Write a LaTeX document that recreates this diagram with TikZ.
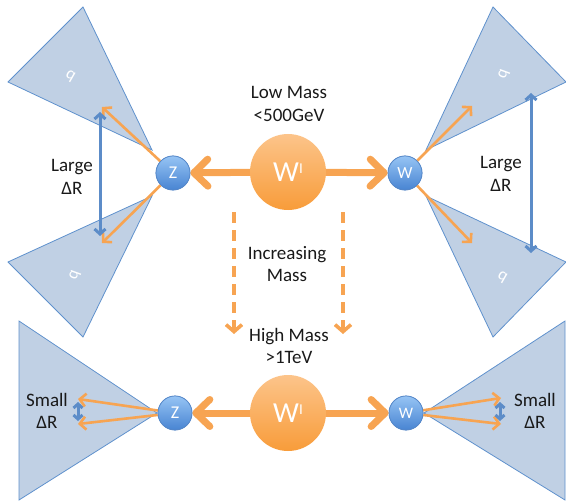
\documentclass[tikz,border=0pt]{standalone}
\usepackage{fontspec}
\setmainfont{Carlito}
\usetikzlibrary{arrows.meta}
\definecolor{orng}{RGB}{247,164,82}
\definecolor{orngtop}{RGB}{252,196,138}
\definecolor{orngbot}{RGB}{248,156,58}
\definecolor{bluetop}{RGB}{150,196,244}
\definecolor{bluebot}{RGB}{72,132,210}
\definecolor{blueedge}{RGB}{85,135,200}
\definecolor{conefill}{RGB}{192,208,228}
\definecolor{coneedge}{RGB}{95,145,205}
\definecolor{darr}{RGB}{92,140,200}
\tikzset{
  cone/.style={fill=conefill, draw=coneedge, line width=0.8pt, line join=miter},
  small/.style={circle, minimum size=34pt, inner sep=0pt, draw=blueedge, line width=0.7pt,
    top color=bluetop, bottom color=bluebot, text=white},
  big/.style={circle, minimum size=76pt, inner sep=0pt, top color=orngtop, bottom color=orngbot, text=white},
  bigarrow/.style={orng, line width=7pt, -{Straight Barb[length=14pt,width=27pt,round]}},
  thinarrow/.style={orng, line width=2.6pt, -{Straight Barb[length=6pt,width=13pt]}},
  dblarrow/.style={darr, line width=3pt, {Straight Barb[length=5pt,width=11pt]}-{Straight Barb[length=5pt,width=11pt]}},
  tinydbl/.style={darr, line width=3pt, {Straight Barb[length=4pt,width=9pt]}-{Straight Barb[length=4pt,width=9pt]}},
  dasharrow/.style={orng, line width=3.6pt, dash pattern=on 11pt off 7pt, -{Straight Barb[length=7pt,width=16pt]}},
  lbl/.style={align=center, font=\fontsize{19}{22.5}\selectfont, text=black!90},
  qlbl/.style={text=white, font=\fontsize{17}{17}\selectfont, inner sep=0pt}
}
\begin{document}
\begin{tikzpicture}[x=1pt,y=-1pt]
\useasboundingbox (0,0) rectangle (566,503);
% cones
\path[cone] (152,150) -- (83,7) -- (8,82) -- cycle;
\path[cone] (152,196) -- (8,262) -- (83,337) -- cycle;
\path[cone] (426,150) -- (493,7) -- (566,82) -- cycle;
\path[cone] (426,196) -- (566,262) -- (493,337) -- cycle;
\path[cone] (157,413) -- (19,321) -- (19,500) -- cycle;
\path[cone] (424,413) -- (565,321) -- (565,500) -- cycle;
\node[qlbl, rotate=-30] (q1) at (70,76) {q};
\node[qlbl, rotate=70] (q2) at (75,275) {q};
\node[qlbl, rotate=70] (q3) at (504,74) {q};
\node[qlbl, rotate=-30] (q4) at (502,277) {q};
% nodes
\node[big] (Wp1) at (288,172) {\fontsize{29}{29}\selectfont W\raisebox{0.28em}{\fontsize{15}{15}\selectfont I}};
\node[big] (Wp2) at (288,413) {\fontsize{29}{29}\selectfont W\raisebox{0.28em}{\fontsize{15}{15}\selectfont I}};
\node[small] (Z1) at (173,173) {\fontsize{18}{18}\selectfont Z};
\node[small] (W1) at (405,173) {\fontsize{17}{17}\selectfont W};
\node[small] (Z2) at (175,413) {\fontsize{18}{18}\selectfont Z};
\node[small] (W2) at (406,413) {\fontsize{16}{16}\selectfont W};
% free ends
\coordinate (a1) at (102,107);
\coordinate (a2) at (102,243);
\coordinate (a3) at (472,106);
\coordinate (a4) at (472,243);
\coordinate (b1) at (78,399);
\coordinate (b2) at (78,424);
\coordinate (b3) at (501,398);
\coordinate (b4) at (501,424);
\coordinate (d1s) at (100,112);
\coordinate (d1e) at (100,236);
\coordinate (d2s) at (531,93);
\coordinate (d2e) at (531,253);
\coordinate (s1s) at (78,402);
\coordinate (s1e) at (78,421);
\coordinate (s2s) at (500,402);
\coordinate (s2e) at (500,421);
\coordinate (v1s) at (234,212);
\coordinate (v1e) at (234,334);
\coordinate (v2s) at (343,212);
\coordinate (v2e) at (343,334);
% thin arrows
\draw[thinarrow] (Z1) -- (a1);
\draw[thinarrow] (Z1) -- (a2);
\draw[thinarrow] (W1) -- (a3);
\draw[thinarrow] (W1) -- (a4);
\draw[thinarrow] (Z2) -- (b1);
\draw[thinarrow] (Z2) -- (b2);
\draw[thinarrow] (W2) -- (b3);
\draw[thinarrow] (W2) -- (b4);
% blue double arrows
\draw[dblarrow] (d1s) -- (d1e);
\draw[dblarrow] (d2s) -- (d2e);
\draw[tinydbl] (s1s) -- (s1e);
\draw[tinydbl] (s2s) -- (s2e);
% re-draw circles on top
\node[small] at (Z1) {\fontsize{18}{18}\selectfont Z};
\node[small] at (W1) {\fontsize{17}{17}\selectfont W};
\node[small] at (Z2) {\fontsize{18}{18}\selectfont Z};
\node[small] at (W2) {\fontsize{16}{16}\selectfont W};
% big arrows
\draw[bigarrow] (Wp1) -- (Z1);
\draw[bigarrow] (Wp1) -- (W1);
\draw[bigarrow] (Wp2) -- (Z2);
\draw[bigarrow] (Wp2) -- (W2);
% dashed
\draw[dasharrow] (v1s) -- (v1e);
\draw[dasharrow] (v2s) -- (v2e);
% texts
\node[lbl] (t1) at (289,104) {Low Mass\\<500GeV};
\node[lbl] (t2) at (287,264) {Increasing\\Mass};
\node[lbl] (t3) at (289,346) {High Mass\\>1TeV};
\node[lbl] (t4) at (72,177) {Large\\ΔR};
\node[lbl] (t5) at (501,174) {Large\\ΔR};
\node[lbl] (t6) at (47,411) {Small\\ΔR};
\node[lbl] (t7) at (535,411) {Small\\ΔR};
\end{tikzpicture}
\end{document}
